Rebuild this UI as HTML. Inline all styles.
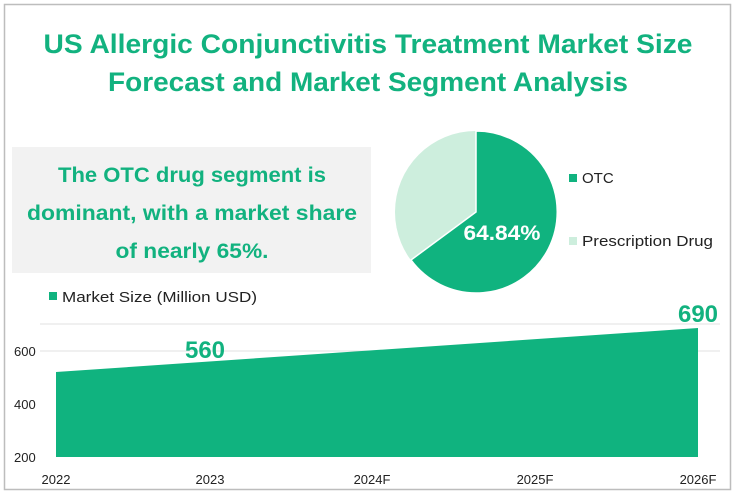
<!DOCTYPE html>
<html><head><meta charset="utf-8"><style>
html,body{margin:0;padding:0;background:#fff}
svg{display:block;font-family:"Liberation Sans",sans-serif}
</style></head><body>
<svg width="735" height="494" viewBox="0 0 735 494" xmlns="http://www.w3.org/2000/svg">
<rect x="4.5" y="4.5" width="726" height="485" fill="#fff" stroke="#bdbdbd" stroke-width="1.5"/>
<g fill="#12b27f" font-weight="bold" font-size="27">
<text x="368" y="53" text-anchor="middle" textLength="649" lengthAdjust="spacingAndGlyphs">US Allergic Conjunctivitis Treatment Market Size</text>
<text x="368" y="91" text-anchor="middle" textLength="520" lengthAdjust="spacingAndGlyphs">Forecast and Market Segment Analysis</text>
</g>
<rect x="12" y="147" width="359" height="126" fill="#f2f2f2"/>
<g fill="#12b27f" font-weight="bold" font-size="21" text-anchor="middle">
<text x="192" y="182" textLength="268" lengthAdjust="spacingAndGlyphs">The OTC drug segment is</text>
<text x="192" y="220" textLength="330" lengthAdjust="spacingAndGlyphs">dominant, with a market share</text>
<text x="192" y="258" textLength="153" lengthAdjust="spacingAndGlyphs">of nearly 65%.</text>
</g>
<!-- pie -->
<circle cx="476" cy="212" r="81" fill="#cdeedd"/>
<path d="M476,212 L476,131 A81,81 0 1,1 411,260 Z" fill="#10b37f" stroke="#fff" stroke-width="1.5"/>
<text x="502" y="240" fill="#fff" font-weight="bold" font-size="21" text-anchor="middle" textLength="77" lengthAdjust="spacingAndGlyphs">64.84%</text>
<rect x="569" y="174" width="8" height="8" fill="#10b37f"/>
<text x="582" y="183" font-size="15" fill="#222">OTC</text>
<rect x="569" y="237" width="8" height="8" fill="#cdeedd"/>
<text x="582" y="246" font-size="15" fill="#222" textLength="131" lengthAdjust="spacingAndGlyphs">Prescription Drug</text>
<!-- area chart -->
<rect x="49" y="292" width="8" height="8" fill="#10b37f"/>
<text x="62" y="302" font-size="15" fill="#222" textLength="195" lengthAdjust="spacingAndGlyphs">Market Size (Million USD)</text>
<line x1="40" y1="324" x2="720" y2="324" stroke="#e0e0e0"/>
<line x1="40" y1="351" x2="720" y2="351" stroke="#e0e0e0"/>
<polygon points="56,372 698,328 698,457 56,457" fill="#10b37f"/>
<g font-size="13" fill="#222">
<text x="14" y="356">600</text>
<text x="14" y="409">400</text>
<text x="14" y="462">200</text>
</g>
<g font-size="13" fill="#222" text-anchor="middle">
<text x="56" y="484">2022</text>
<text x="210" y="484">2023</text>
<text x="372" y="484">2024F</text>
<text x="535" y="484">2025F</text>
<text x="698" y="484">2026F</text>
</g>
<g fill="#12b27f" font-weight="bold" font-size="24" text-anchor="middle">
<text x="205" y="358">560</text>
<text x="698" y="322">690</text>
</g>
</svg>
</body></html>
